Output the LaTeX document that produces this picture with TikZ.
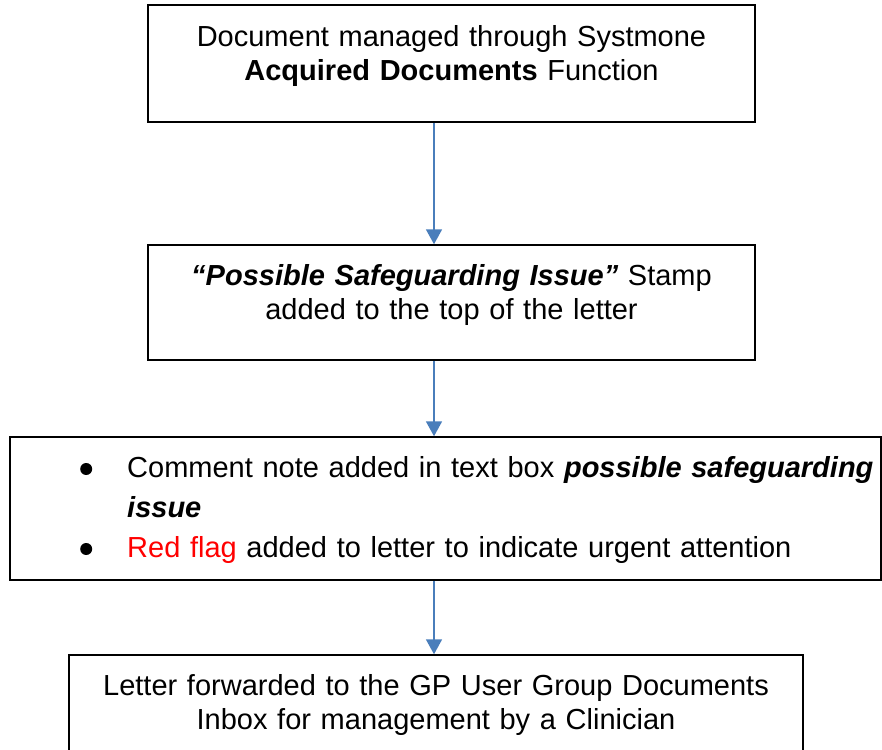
\documentclass[tikz,border=0pt]{standalone}
\usepackage{fontspec}
\setmainfont{Liberation Sans}
\usetikzlibrary{positioning,arrows.meta,calc}
\definecolor{sgarrow}{RGB}{74,126,187}
\definecolor{sgflag}{RGB}{255,0,0}
\tikzset{
  stepbox/.style={draw=black, line width=1.5pt, inner sep=0pt},
  steptext/.style={
    font=\fontsize{29}{34}\selectfont, align=center, inner sep=0pt, anchor=base
  },
  listtext/.style={
    font=\fontsize{29}{40}\selectfont, align=left, inner sep=0pt, anchor=base west
  },
  ar/.style={-{Triangle[length=15pt,width=16pt]}, draw=sgarrow, line width=1.8pt},
}
% bullet item with a hanging indent
\newcommand{\sgbullet}{\raisebox{2pt}{\tikz\fill (0,0) circle (6pt);}}
\newcommand{\sgitem}[1]{\hangindent=77pt\hangafter=1%
  \makebox[77pt][l]{\hspace{30pt}\sgbullet}#1}

\begin{document}
\begin{tikzpicture}[x=1pt,y=-1pt]
  \useasboundingbox (0,0) rectangle (882,749);

  % ===== boxes, top to bottom =====
  \node[stepbox, minimum width=607, minimum height=117] (acq) at (451.5,63.5) {};
  \node[steptext, text width=600] (acqtext) at (451.5,47) {%
    Document managed through Systmone\\
    \textbf{Acquired Documents} Function};

  \node[stepbox, minimum width=607, minimum height=115] (stamp) at (451.5,302.5) {};
  \node[steptext, text width=600] (stamptext) at (451.5,285) {%
    \textbf{\textit{“Possible Safeguarding Issue”}} Stamp\\
    added to the top of the letter};

  \node[stepbox, minimum width=871, minimum height=143] (note) at (445.5,508.5) {};
  \node[listtext, text width=830] (notetext) at (50,477) {%
    \sgitem{Comment note added in text box \textbf{\textit{possible safeguarding}}\newline
      \textbf{\textit{issue}}}\par
    \sgitem{\textcolor{sgflag}{Red flag} added to letter to indicate urgent attention}};

  \node[stepbox, minimum width=734, minimum height=115] (inbox) at (436,712.5) {};
  \node[steptext, text width=720] (inboxtext) at (436,695) {%
    Letter forwarded to the GP User Group Documents\\
    Inbox for management by a Clinician};

  % ===== connectors on one vertical spine =====
  \coordinate (spine) at (434,0);
  \draw[ar] (spine |- acq.south) -- (spine |- stamp.north);
  \draw[ar] (spine |- stamp.south) -- (spine |- note.north);
  \draw[ar] (spine |- note.south) -- (spine |- inbox.north);

\end{tikzpicture}
\end{document}
